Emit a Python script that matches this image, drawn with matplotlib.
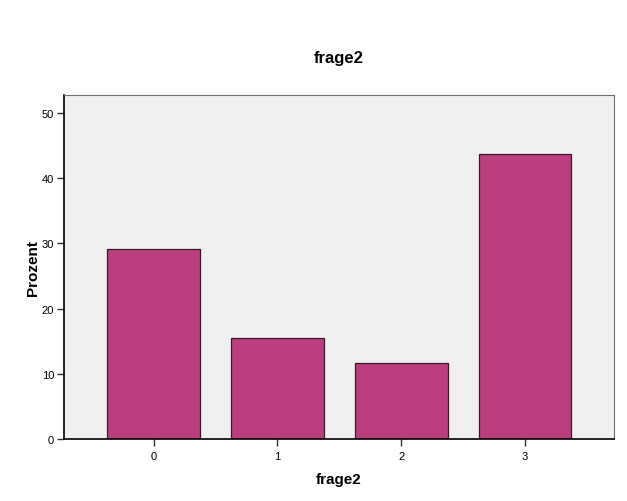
import matplotlib
matplotlib.use('Agg')
import matplotlib.pyplot as plt

plt.rcParams['font.family'] = ['Liberation Sans', 'DejaVu Sans']

# answers to frage2, share in percent
categories = ['0', '1', '2', '3']
prozent = [29.13, 15.53, 11.65, 43.69]

fig = plt.figure(figsize=(6.27, 5.02), dpi=100)
ax = fig.add_axes([0.102, 0.1235, 0.877, 0.6855])
ax.set_facecolor('#F0F0F0')

x = range(len(categories))
ax.bar(x, prozent, width=0.75, color='#BB3F7E', edgecolor='#3A1A28', linewidth=0.9)

ax.set_xlim(-0.725, 3.718)
ax.set_ylim(0, 52.75)
ax.set_xticks(list(x))
ax.set_xticklabels(categories)
ax.set_yticks([0, 10, 20, 30, 40, 50])

ax.tick_params(axis='both', direction='out', length=5, width=1, labelsize=8, color='#333333')
ax.tick_params(axis='y', pad=2)
for side in ['left', 'bottom']:
    ax.spines[side].set_color('black')
    ax.spines[side].set_linewidth(1.2)
for side in ['top', 'right']:
    ax.spines[side].set_color('#707070')
    ax.spines[side].set_linewidth(0.8)

ax.set_title('frage2', fontsize=12, fontweight='bold', pad=24)
ax.set_xlabel('frage2', fontsize=11, fontweight='bold', labelpad=8)
ax.set_ylabel('Prozent', fontsize=11, fontweight='bold', labelpad=1)

fig.savefig('out.png', dpi=100)
